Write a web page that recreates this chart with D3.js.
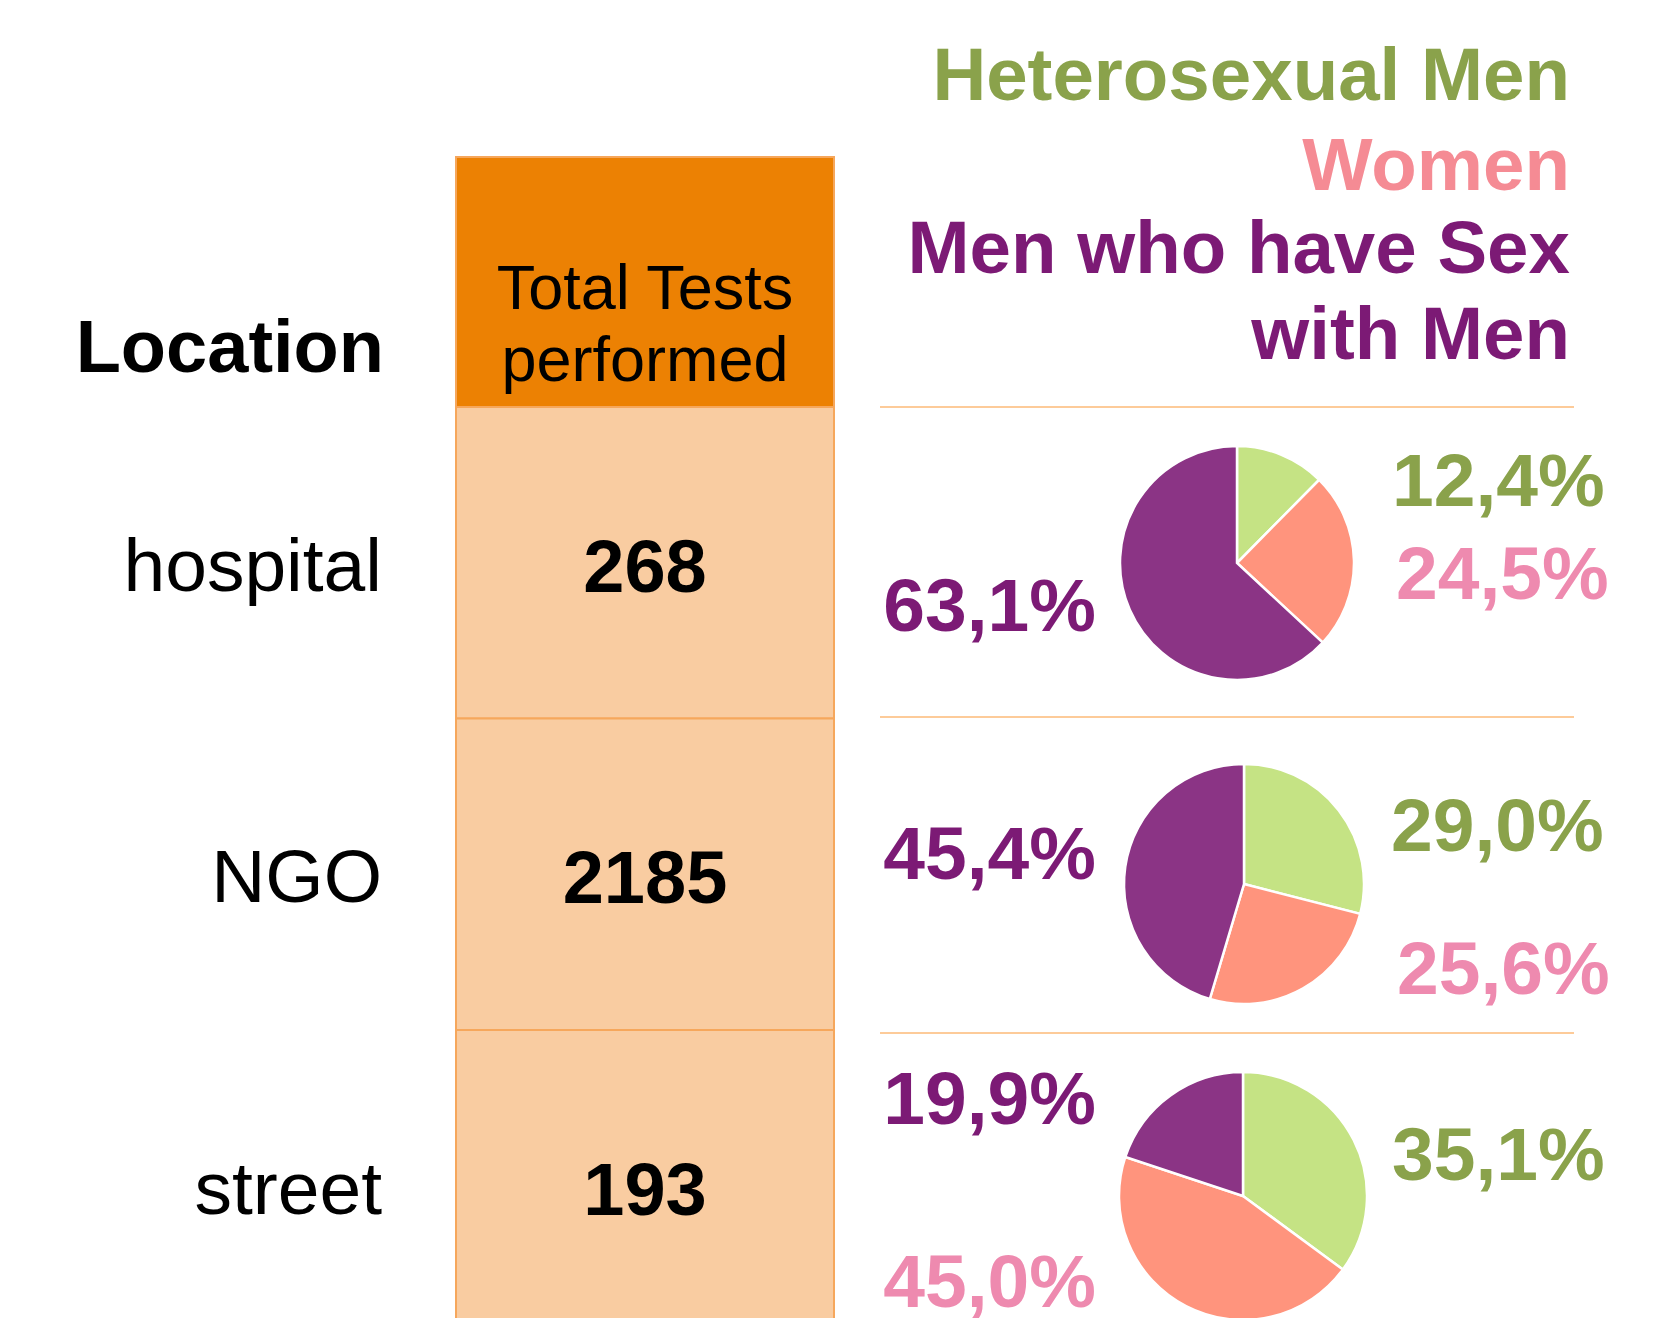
<!DOCTYPE html>
<html>
<head>
<meta charset="utf-8">
<script src="https://cdn.jsdelivr.net/npm/d3@7"></script>
<style>
  html, body { margin: 0; padding: 0; background: #fff; overflow: hidden; }
  text { font-family: "Liberation Sans", Arial, sans-serif; }
</style>
</head>
<body>
<svg id="chart" width="1670" height="1318"></svg>
<script>
// data
var locations = ["hospital", "NGO", "street"];
var totals = [268, 2185, 193];
var groups = ["Heterosexual Men", "Women", "Men who have Sex", "with Men"];
var hetero = [12.4, 29.0, 35.1];
var women = [24.5, 25.6, 45.0];
var msm = [63.1, 45.4, 19.9];

var colPie = ["#c5e384", "#ff947d", "#8b3485"];
var colText = ["#8aa24b", "#ee8aaf", "#7c1a75"];
var colLegend = ["#8aa24b", "#f58b94", "#7c1a75", "#7c1a75"];

var svg = d3.select("#chart");

var row = d3.scaleBand().domain(locations).range([407, 407 + 3 * 311.5]);
var fmt = function(v) { return d3.format(".1f")(v).replace(".", ",") + "%"; };

// table column
var colX = 456, colW = 378;
svg.append("rect")
  .attr("x", colX).attr("y", 157).attr("width", colW).attr("height", 250)
  .attr("fill", "#ec8103").attr("stroke", "#f6a75c").attr("stroke-width", 2);

svg.selectAll(".cell")
  .data(locations)
  .enter().append("rect")
  .attr("class", "cell")
  .attr("x", colX)
  .attr("y", function(d) { return row(d); })
  .attr("width", colW)
  .attr("height", row.bandwidth())
  .attr("fill", "#f9cca1")
  .attr("stroke", "#f6a75c").attr("stroke-width", 2);

svg.append("text").attr("x", 645).attr("y", 309).attr("text-anchor", "middle")
  .attr("font-size", 63).text("Total Tests");
svg.append("text").attr("x", 645).attr("y", 381).attr("text-anchor", "middle")
  .attr("font-size", 63).text("performed");

svg.append("text").attr("x", 384).attr("y", 372).attr("text-anchor", "end")
  .attr("font-size", 74).attr("font-weight", "bold").text("Location");

svg.selectAll(".loc")
  .data(locations)
  .enter().append("text")
  .attr("class", "loc")
  .attr("x", 382)
  .attr("y", function(d) { return row(d) + row.bandwidth() / 2 + 28; })
  .attr("text-anchor", "end")
  .attr("font-size", 75)
  .text(function(d) { return d; });

svg.selectAll(".total")
  .data(totals)
  .enter().append("text")
  .attr("class", "total")
  .attr("x", 645)
  .attr("y", function(d, i) { return row(locations[i]) + row.bandwidth() / 2 + 29; })
  .attr("text-anchor", "middle")
  .attr("font-size", 74).attr("font-weight", "bold")
  .text(function(d) { return d; });

// legend
var legendY = [100, 190, 273, 359];
svg.selectAll(".legend")
  .data(groups)
  .enter().append("text")
  .attr("class", "legend")
  .attr("x", 1570)
  .attr("y", function(d, i) { return legendY[i]; })
  .attr("text-anchor", "end")
  .attr("font-size", 74.5).attr("font-weight", "bold")
  .attr("fill", function(d, i) { return colLegend[i]; })
  .text(function(d) { return d; });

// separators
var seps = [407, 717, 1033];
svg.selectAll(".sep")
  .data(seps)
  .enter().append("line")
  .attr("x1", 880).attr("x2", 1574)
  .attr("y1", function(d) { return d; }).attr("y2", function(d) { return d; })
  .attr("stroke", "#fdcb99").attr("stroke-width", 2);

// pies
var pieCx = [1237, 1244, 1243];
var pieCy = [563, 884, 1196];
var pieR = [117, 120, 124];
// label anchors per pie: [dx, dy, anchor] for hetero, women, msm
var labelPos = [
  [[155, -57, "start"], [159, 36, "start"], [-141, 68, "end"]],
  [[147, -33, "start"], [153, 110, "start"], [-148, -5, "end"]],
  [[149, -16, "start"], [-147, 111, "end"], [-147, -72, "end"]]
];

var pie = d3.pie().sort(null).value(function(d) { return d; });

locations.forEach(function(loc, i) {
  var vals = [hetero[i], women[i], msm[i]];
  var arc = d3.arc().innerRadius(0).outerRadius(pieR[i]);
  var g = svg.append("g").attr("transform", "translate(" + pieCx[i] + "," + pieCy[i] + ")");
  g.selectAll("path")
    .data(pie(vals))
    .enter().append("path")
    .attr("d", arc)
    .attr("fill", function(d, j) { return colPie[j]; })
    .attr("stroke", "#fff").attr("stroke-width", 2.5);
  g.selectAll("text")
    .data(vals)
    .enter().append("text")
    .attr("x", function(d, j) { return labelPos[i][j][0]; })
    .attr("y", function(d, j) { return labelPos[i][j][1]; })
    .attr("text-anchor", function(d, j) { return labelPos[i][j][2]; })
    .attr("font-size", 75).attr("font-weight", "bold")
    .attr("fill", function(d, j) { return colText[j]; })
    .text(function(d) { return fmt(d); });
});
</script>
</body>
</html>
